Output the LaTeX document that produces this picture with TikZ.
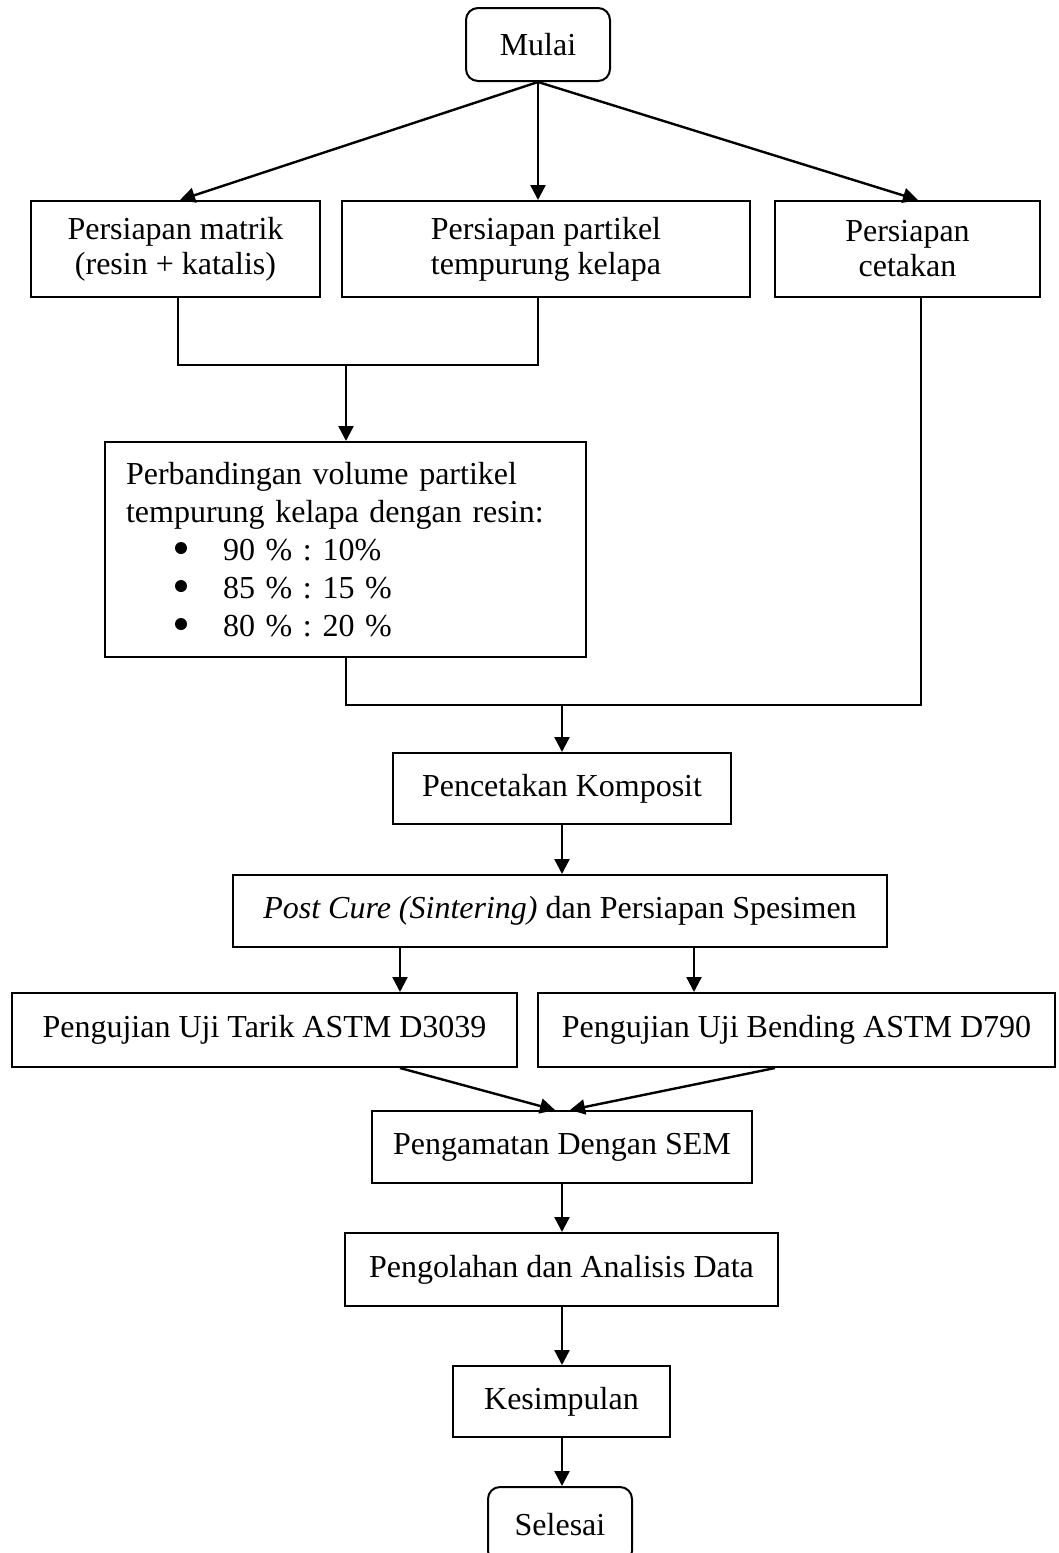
\documentclass[tikz,border=0pt]{standalone}
\usepackage{fontspec}
\setmainfont{Liberation Serif}
\usetikzlibrary{arrows.meta}
\frenchspacing
\newcommand{\blt}{\hspace*{48.5pt}}
\begin{document}
\begin{tikzpicture}[x=0.5pt,y=-0.5pt,
  box/.style={draw, line width=1pt, align=center, inner sep=0pt,
    font=\fontsize{16}{17.5}\selectfont},
  term/.style={box, rounded corners=6pt},
  arr/.style={line width=1.2pt, -{Triangle[length=7.5pt,width=7.5pt]}},
  link/.style={line width=0.8pt},
  dot/.style={fill=black}]
\useasboundingbox (0,0) rectangle (1059,1553);
% nodes
\node[term, minimum width=72pt, minimum height=36.5pt] (mulai) at (538,44.5) {Mulai};
\node[box, minimum width=144.5pt, minimum height=48pt] (matrik) at (175.5,249) {Persiapan matrik\\(resin + katalis)};
\node[box, minimum width=204pt, minimum height=48pt] (partikel) at (546,249) {Persiapan partikel\\tempurung kelapa};
\node[box, minimum width=132.5pt, minimum height=48pt] (cetakan) at (907.5,249) {Persiapan\\cetakan};
\node[box, minimum height=107.5pt, inner xsep=10.5pt, text width=219.5pt, align=left,
  font=\fontsize{16}{19}\selectfont] (perb) at (345.5,549.5)
  {Perbandingan volume partikel\\
   tempurung kelapa dengan resin:\\
   \blt 90 \% : 10\%\\
   \blt 85 \% : 15 \%\\
   \blt 80 \% : 20 \%};
% bullets of the list
\fill[dot] (181,548) circle (3pt);
\fill[dot] (181,586) circle (3pt);
\fill[dot] (181,624) circle (3pt);
\node[box, minimum width=169pt, minimum height=35.5pt] (cetak) at (562,788.5) {Pencetakan Komposit};
\node[box, minimum width=327pt, minimum height=36pt] (post) at (560,911) {\textit{Post Cure (Sintering)} dan Persiapan Spesimen};
\node[box, minimum width=252.5pt, minimum height=37pt] (tarik) at (264.5,1030) {Pengujian Uji Tarik ASTM D3039};
\node[box, minimum width=258.5pt, minimum height=37pt] (bending) at (796.5,1030) {Pengujian Uji Bending ASTM D790};
\node[box, minimum width=190pt, minimum height=36pt] (sem) at (562,1147) {Pengamatan Dengan SEM};
\node[box, minimum width=216.5pt, minimum height=36.5pt] (olah) at (561.5,1269.5) {Pengolahan dan Analisis Data};
\node[box, minimum width=108.5pt, minimum height=35.5pt] (simpul) at (561.5,1401.5) {Kesimpulan};
\node[term, minimum width=72pt, minimum height=38pt] (selesai) at (560,1525) {Selesai};
% junction coordinates
\coordinate (j1) at (178,365);
\coordinate (j2) at (538,365);
\coordinate (j3) at (346,365);
\coordinate (k1) at (346,705);
\coordinate (k2) at (921,705);
\coordinate (k3) at (562,705);
% connectors
\draw[arr] (mulai.south) -- (matrik.north -| 180,0);
\draw[arr] (mulai.south) -- (partikel.north -| mulai.south);
\draw[arr] (mulai.south) -- (cetakan.north -| 918,0);
\draw[link] (matrik.south -| j1) -- (j1) -- (j2) -- (partikel.south -| j2);
\draw[arr] (j3) -- (perb.north -| j3);
\draw[link] (perb.south -| k1) -- (k1) -- (k2) -- (cetakan.south -| k2);
\draw[arr] (k3) -- (cetak.north -| k3);
\draw[arr] (cetak.south -| k3) -- (post.north -| k3);
\draw[arr] (post.south -| 400,0) -- (tarik.north -| 400,0);
\draw[arr] (post.south -| 694,0) -- (bending.north -| 694,0);
\draw[arr] (tarik.south -| 400,0) -- (sem.north -| 555,0);
\draw[arr] (bending.south -| 775,0) -- (sem.north -| 570,0);
\draw[arr] (sem.south -| k3) -- (olah.north -| k3);
\draw[arr] (olah.south -| k3) -- (simpul.north -| k3);
\draw[arr] (simpul.south -| k3) -- (selesai.north -| k3);
\end{tikzpicture}
\end{document}
